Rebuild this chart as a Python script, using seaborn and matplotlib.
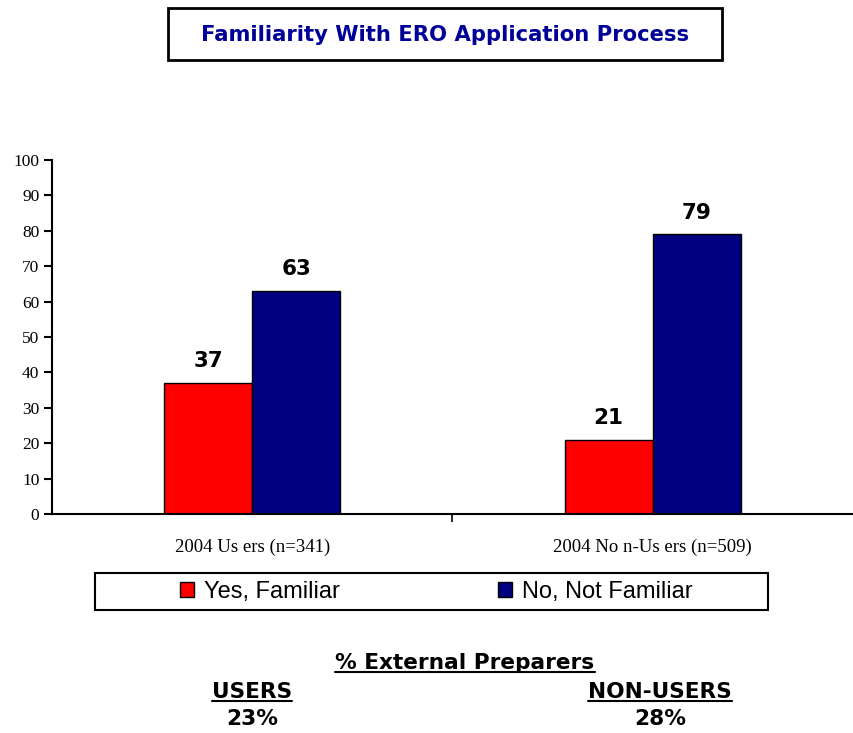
import pandas as pd
import seaborn as sns
import matplotlib.pyplot as plt
from matplotlib.patches import Rectangle
from matplotlib.lines import Line2D

groups = ["2004 Us ers (n=341)", "2004 No n-Us ers (n=509)"]
series = ["Yes, Familiar", "No, Not Familiar"]
yes_vals = [37, 21]
no_vals = [63, 79]
colors = {"Yes, Familiar": "#FF0000", "No, Not Familiar": "#000080"}
y_ticks = [0, 10, 20, 30, 40, 50, 60, 70, 80, 90, 100]

df = pd.DataFrame({
    "group": groups * 2,
    "series": [series[0]] * 2 + [series[1]] * 2,
    "value": yes_vals + no_vals,
})

sns.set_theme(style="white")
plt.rcParams['font.family'] = ['DejaVu Sans']
plt.rcParams['text.color'] = 'black'

fig = plt.figure(figsize=(8.54, 7.33), dpi=100)
ax = fig.add_axes([52 / 854, 1 - 514 / 733, 801 / 854, 354 / 733])

sns.barplot(data=df, x="group", y="value", hue="series", order=groups,
            hue_order=series, palette=colors, width=0.44, ax=ax,
            edgecolor="black", linewidth=1, saturation=1, legend=False)

ax.set_xlim(-0.5, 1.5)
ax.set_ylim(0, 100)
ax.set_yticks(y_ticks)
ax.set(xlabel="", ylabel="")
sns.despine(ax=ax, top=True, right=True)
for s in ["left", "bottom"]:
    ax.spines[s].set_color("black")
    ax.spines[s].set_linewidth(1.5)

ax.tick_params(axis="y", which="major", direction="out", length=6, width=1.5,
               color="black", left=True, pad=3, labelsize=12.5)
ax.tick_params(axis="x", which="major", length=0, pad=18, labelsize=13.5)
ax.set_xticks([0.5], minor=True)
ax.tick_params(axis="x", which="minor", direction="out", length=6, width=1.2,
               color="black", bottom=True)
for lab in ax.get_xticklabels() + ax.get_yticklabels():
    lab.set_fontfamily("Liberation Serif")
    lab.set_color("black")

for cont, vals in zip(ax.containers, [yes_vals, no_vals]):
    ax.bar_label(cont, labels=[str(v) for v in vals], padding=8.5,
                 fontsize=15.5, fontweight="bold", color="black")

# title box
fig.patches.append(Rectangle((168 / 854, 1 - 60 / 733), 554 / 854, 52 / 733,
                             transform=fig.transFigure, fill=False,
                             edgecolor="black", linewidth=2))
fig.text(445 / 854, 1 - 35 / 733, "Familiarity With ERO Application Process",
         ha="center", va="center", fontsize=15.2, fontweight="bold", color="#000099")

# legend
fig.patches.append(Rectangle((95 / 854, 1 - 610 / 733), 673 / 854, 37 / 733,
                             transform=fig.transFigure, fill=False,
                             edgecolor="black", linewidth=1.5))
leg = fig.legend(handles=list(ax.containers), labels=series, ncol=2,
                 loc="center", bbox_to_anchor=(436.5 / 854, 1 - 592 / 733),
                 frameon=False, prop={"family": "Liberation Sans", "size": 17},
                 handlelength=0.6, handleheight=0.6, handletextpad=0.42,
                 columnspacing=6.7, labelcolor="black")

# bottom note
t1 = fig.text(465 / 854, 1 - 663 / 733, "% External Preparers", ha="center",
              va="center", fontsize=15.6, fontweight="bold")
t2 = fig.text(252 / 854, 1 - 692 / 733, "USERS", ha="center", va="center",
              fontsize=15.6, fontweight="bold")
t3 = fig.text(660 / 854, 1 - 692 / 733, "NON-USERS", ha="center", va="center",
              fontsize=15.6, fontweight="bold")
fig.text(252 / 854, 1 - 719 / 733, "23%", ha="center", va="center",
         fontsize=15.6, fontweight="bold")
fig.text(660 / 854, 1 - 719 / 733, "28%", ha="center", va="center",
         fontsize=15.6, fontweight="bold")

fig.canvas.draw()
inv = fig.transFigure.inverted()
for t in [t1, t2, t3]:
    bb = t.get_window_extent().transformed(inv)
    fig.lines.append(Line2D([bb.x0, bb.x1], [bb.y0 + 0.002, bb.y0 + 0.002],
                            transform=fig.transFigure, color="black", linewidth=1.5))

fig.savefig("out.png", dpi=100)
